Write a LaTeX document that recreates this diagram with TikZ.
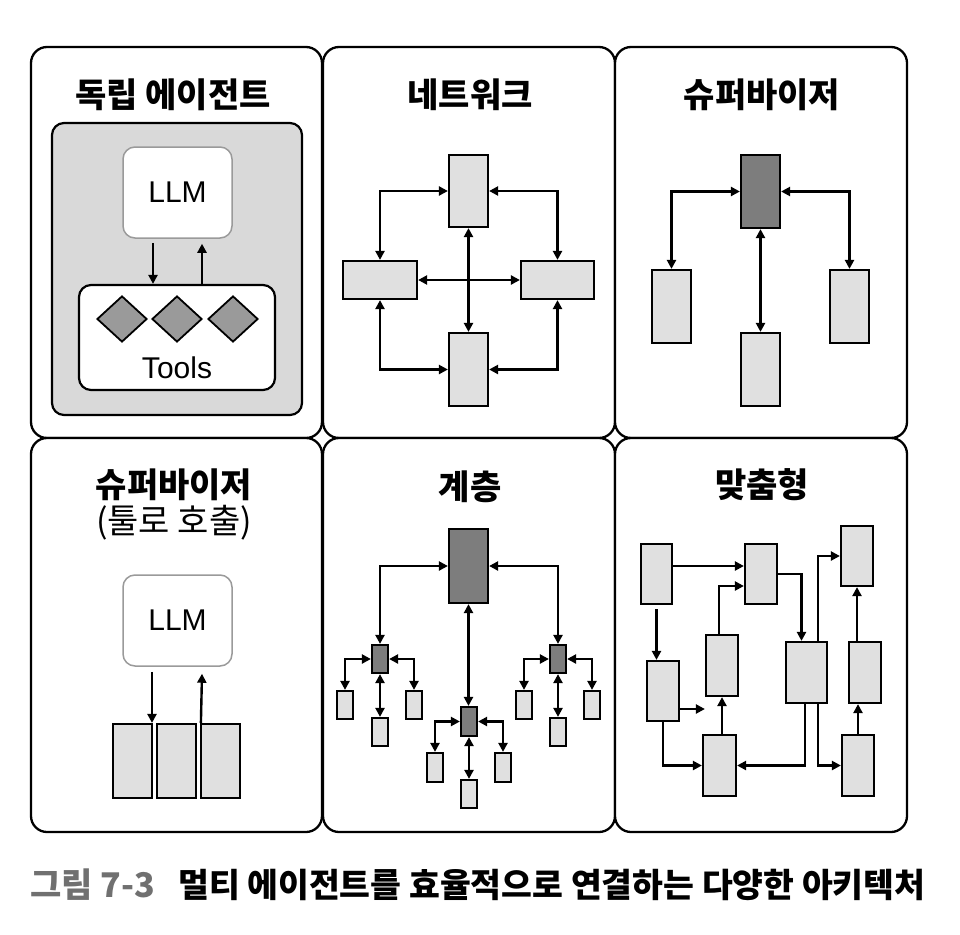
\documentclass[tikz,border=0pt]{standalone}
\usepackage{fontspec}
\setmainfont{Liberation Sans}
\newfontfamily\kr{Noto Sans CJK KR}
\usetikzlibrary{arrows.meta,shapes.geometric,calc}
\definecolor{boxgray}{HTML}{E0E0E0}
\definecolor{darkbox}{HTML}{7D7D7D}
\definecolor{innergray}{HTML}{D9D9D9}
\definecolor{diamondgray}{HTML}{9A9A9A}
\definecolor{llmborder}{HTML}{9A9A9A}
\definecolor{capgray}{HTML}{707070}
\newcommand\mybox[6]{\node[#6, minimum width={#4-#2}, minimum height={#5-#3}] (#1) at ({(#2+#4)/2},{(#3+#5)/2}) {};}
\tikzset{
  panel/.style={draw=black, line width=2.3pt, rounded corners=16pt, fill=white, inner sep=0},
  titletext/.style={font=\kr\bfseries\fontsize{34}{38}\selectfont, inner sep=0},
  subtext/.style={font=\kr\fontsize{34}{38}\selectfont, inner sep=0},
  latintext/.style={font=\fontsize{30}{34}\selectfont, inner sep=0},
  lbox/.style={draw=black, line width=2.2pt, fill=boxgray, inner sep=0, rectangle},
  dbox/.style={lbox, fill=darkbox},
  graybg/.style={draw=black, line width=2.2pt, fill=innergray, rounded corners=12pt, inner sep=0},
  llmbox/.style={draw=llmborder, line width=1.5pt, fill=white, rounded corners=12pt, inner sep=0},
  toolbox/.style={draw=black, line width=2.2pt, fill=white, rounded corners=12pt, inner sep=0},
  tooldiamond/.style={diamond, draw=black, line width=1.8pt, fill=diamondgray, minimum width=50pt, minimum height=46pt, inner sep=0},
  arr/.style={line width=2.4pt, -{Triangle[length=9pt,width=9pt]}},
  biarr/.style={line width=2.4pt, {Triangle[length=9pt,width=9pt]}-{Triangle[length=9pt,width=9pt]}},
}
\begin{document}
\begin{tikzpicture}[x=1pt,y=-1pt]
\useasboundingbox (0,0) rectangle (960,934);
\fill[white] (0,0) rectangle (960,934);

% ---------- panels ----------
\mybox{p1}{31}{47}{322}{438}{panel}
\mybox{p2}{323}{47}{615}{438}{panel}
\mybox{p3}{615}{47}{907}{438}{panel}
\mybox{p4}{31}{438}{322}{832}{panel}
\mybox{p5}{323}{438}{615}{832}{panel}
\mybox{p6}{615}{438}{907}{832}{panel}

% ---------- panel 1: 독립 에이전트 ----------
\node[titletext] (t1) at (173,95) {독립 에이전트};
\mybox{g1}{52}{123}{302}{415}{graybg}
\mybox{llma}{123}{147}{232}{238}{llmbox}
\node[latintext] (llmatext) at (llma.center) {LLM};
\mybox{tools}{79}{285}{275}{390}{toolbox}
\node[tooldiamond] (d1) at (122,319) {};
\node[tooldiamond] (d2) at (177,319) {};
\node[tooldiamond] (d3) at (233,319) {};
\node[latintext] (toolstext) at (177,368) {Tools};
\coordinate (a1s) at ([xshift=-24.5pt,yshift=-4pt]llma.south);
\coordinate (a1e) at (a1s |- tools.north);
\draw[arr] (a1s) -- (a1e);
\coordinate (a2s) at ([xshift=25pt]tools.north);
\coordinate (a2e) at ([xshift=24.5pt,yshift=-5pt]llma.south);
\draw[arr] (a2s) -- (a2e);

% ---------- panel 2: 네트워크 ----------
\node[titletext] (t2) at (470,95) {네트워크};
\mybox{nT}{449}{155}{488}{227}{lbox}
\mybox{nL}{343}{261}{417}{299}{lbox}
\mybox{nR}{521}{261}{594}{299}{lbox}
\mybox{nB}{449}{333}{488}{406}{lbox}
\draw[biarr] (nL.north) |- (nT.west);
\draw[biarr] (nR.north) |- (nT.east);
\draw[biarr] (nL.south) |- (nB.west);
\draw[biarr] (nR.south) |- (nB.east);
\draw[biarr] (nT.south) -- (nB.north);
\draw[biarr] (nL.east) -- (nR.west);

% ---------- panel 3: 슈퍼바이저 ----------
\node[titletext] (t3) at (762,95) {슈퍼바이저};
\mybox{sS}{741}{155}{780}{228}{dbox}
\mybox{sW1}{652}{270}{691}{343}{lbox}
\mybox{sW2}{741}{333}{780}{406}{lbox}
\mybox{sW3}{830}{270}{869}{343}{lbox}
\draw[biarr] (sS.west) -| (sW1.north);
\draw[biarr] (sS.east) -| (sW3.north);
\draw[biarr] (sS.south) -- (sW2.north);

% ---------- panel 4: 슈퍼바이저 (툴로 호출) ----------
\node[titletext] (t4) at (174,485) {슈퍼바이저};
\node[subtext] (t4b) at (174,523) {(툴로 호출)};
\mybox{llmb}{123}{575}{232}{666}{llmbox}
\node[latintext] (llmbtext) at (llmb.center) {LLM};
\mybox{tb1}{113}{724}{152}{798}{lbox}
\mybox{tb2}{157}{724}{196}{798}{lbox}
\mybox{tb3}{201}{724}{240}{798}{lbox}
\coordinate (b1s) at ([xshift=-25.5pt,yshift=-5pt]llmb.south);
\coordinate (b1e) at (b1s |- tb1.north);
\draw[arr] (b1s) -- (b1e);
\coordinate (b2s) at ([xshift=1pt]tb3.north west);
\coordinate (b2e) at ([xshift=24.5pt,yshift=-7pt]llmb.south);
\draw[arr] (b2s) -- (b2e);

% ---------- panel 5: 계층 ----------
\node[titletext] (t5) at (470,487) {계층};
\mybox{hT}{449}{529}{488}{603}{dbox}
\mybox{hML}{372}{645}{388}{673}{dbox}
\mybox{hMR}{550}{645}{566}{673}{dbox}
\mybox{hMC}{461}{707}{477}{736}{dbox}
\mybox{hL1}{337}{691}{353}{719}{lbox}
\mybox{hL2}{406}{691}{422}{719}{lbox}
\mybox{hL3}{372}{718}{388}{746}{lbox}
\mybox{hR1}{516}{691}{532}{719}{lbox}
\mybox{hR2}{584}{691}{600}{719}{lbox}
\mybox{hR3}{550}{718}{566}{746}{lbox}
\mybox{hC1}{427}{753}{443}{782}{lbox}
\mybox{hC2}{495}{753}{511}{782}{lbox}
\mybox{hC3}{461}{780}{477}{808}{lbox}
\draw[biarr] (hT.west) -| (hML.north);
\draw[biarr] (hT.east) -| (hMR.north);
\draw[biarr] (hT.south) -- (hT.south |- hMC.north);
\draw[biarr] (hML.west) -| (hL1.north);
\draw[biarr] (hML.east) -| (hL2.north);
\draw[biarr] (hML.south) -- (hL3.north);
\draw[biarr] (hMR.west) -| (hR1.north);
\draw[biarr] (hMR.east) -| (hR2.north);
\draw[biarr] (hMR.south) -- (hR3.north);
\draw[biarr] (hMC.west) -| (hC1.north);
\draw[biarr] (hMC.east) -| (hC2.north);
\draw[biarr] (hMC.south) -- (hC3.north);

% ---------- panel 6: 맞춤형 ----------
\node[titletext] (t6) at (762,485) {맞춤형};
\mybox{cA}{641}{544}{672}{604}{lbox}
\mybox{cB}{745}{544}{777}{604}{lbox}
\mybox{cC}{841}{526}{873}{586}{lbox}
\mybox{cD}{647}{661}{679}{721}{lbox}
\mybox{cE}{706}{635}{738}{696}{lbox}
\mybox{cF}{786}{642}{827}{703}{lbox}
\mybox{cG}{849}{642}{881}{703}{lbox}
\mybox{cH}{703}{735}{736}{796}{lbox}
\mybox{cI}{842}{735}{874}{796}{lbox}
% A -> B
\coordinate (c1s) at ([yshift=8pt]cA.east);
\draw[arr] (c1s) -- (c1s -| cB.west);
% A -> D
\coordinate (c2s) at ([yshift=-4pt]cA.south);
\draw[arr] (c2s) -- (c2s |- cD.north);
% D -> E
\coordinate (c3s) at ([yshift=-18pt]cD.east);
\draw[arr] (c3s) -- (c3s -| cE.west);
% D -> H
\draw[arr] (cD.south) |- (cH.west);
% H -> E
\coordinate (c5s) at (cE.south |- cH.north);
\draw[arr] (c5s) -- (cE.south);
% E -> B
\coordinate (c6s) at ([xshift=-3pt]cE.north);
\coordinate (c6e) at ([yshift=-12pt]cB.west);
\draw[arr] (c6s) |- (c6e);
% B -> F
\coordinate (c7e) at ([xshift=-5pt]cF.north);
\draw[arr] (cB.east) -| (c7e);
% F -> C
\coordinate (c8s) at ([xshift=11.5pt]cF.north);
\draw[arr] (c8s) |- (cC.west);
% F -> H
\coordinate (c9s) at ([xshift=-1.5pt]cF.south);
\draw[arr] (c9s) |- (cH.east);
% F -> I
\coordinate (c10s) at ([xshift=11.5pt]cF.south);
\draw[arr] (c10s) |- (cI.west);
% I -> G
\draw[arr] (cI.north) -- (cI.north |- cG.south);
% G -> C
\coordinate (c12s) at (cC.south |- cG.north);
\draw[arr] (c12s) -- (cC.south);

% ---------- caption ----------
\node[anchor=west, inner sep=0, text=capgray, font=\kr\bfseries\fontsize{34}{38}\selectfont] (cap1) at (30,885) {그림 7-3};
\node[anchor=west, inner sep=0, font=\kr\bfseries\fontsize{33.5}{38}\selectfont] (cap2) at (178,885) {멀티 에이전트를 효율적으로 연결하는 다양한 아키텍처};
\end{tikzpicture}
\end{document}
